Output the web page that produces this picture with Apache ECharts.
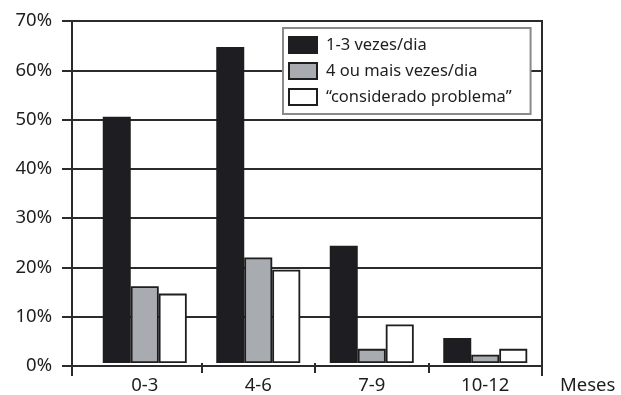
<!DOCTYPE html>
<html>
<head>
<meta charset="utf-8">
<script src="https://cdn.jsdelivr.net/npm/echarts@6/dist/echarts.min.js"></script>
<style>
    html, body { margin: 0; padding: 0; background: #fff; }
    #chart { width: 621px; height: 395px; }
</style>
</head>
<body>
<div id="chart"></div>
<script>
// faixas de idade (meses)
const categories = ['0-3', '4-6', '7-9', '10-12'];
const seriesNames = ['1-3 vezes/dia', '4 ou mais vezes/dia', '\u201cconsiderado problema\u201d'];
// valores em %
const vezes13 = [50.4, 64.7, 24.0, 5.1];
const vezes4mais = [15.7, 21.6, 2.9, 1.7];
const problema = [14.2, 19.1, 7.9, 2.9];
const yTicks = [0, 10, 20, 30, 40, 50, 60, 70];

const lineColor = '#2b2b2b';
const textColor = '#1e1e1e';
const font = 'Noto Sans';

function drawChart(chart_id) {
    const myChart = echarts.init(document.getElementById(chart_id));

    const barStyle = (color) => ({
        color: color,
        borderColor: '#1e1e1e',
        borderWidth: 1.8
    });

    const option = {
        animation: false,
        textStyle: { fontFamily: font },
        grid: [
            // grade com o eixo y e linhas de grade
            { left: 72, right: 79, top: 21, bottom: 29, show: true,
              borderColor: lineColor, borderWidth: 2, backgroundColor: 'transparent' },
            // grade das barras
            { left: 88, right: 79, top: 21, bottom: 29 }
        ],
        legend: {
            orient: 'vertical',
            left: 283,
            top: 28,
            icon: 'rect',
            itemWidth: 28,
            itemHeight: 16,
            itemGap: 8,
            backgroundColor: '#fff',
            borderColor: '#8a8a8a',
            borderWidth: 2,
            padding: [8, 19, 8, 5],
            textStyle: { fontFamily: font, fontSize: 16.5, color: textColor, padding: [0, 0, 0, 4] },
            data: seriesNames
        },
        xAxis: [
            {
                type: 'category',
                gridIndex: 0,
                data: [''],
                axisLine: { show: false },
                axisTick: { show: true, length: 10, lineStyle: { color: lineColor, width: 2 } },
                axisLabel: { show: false }
            },
            {
                type: 'category',
                gridIndex: 1,
                data: categories,
                axisLine: { show: false },
                axisTick: {
                    show: true, length: 10,
                    interval: (i) => i > 0,
                    lineStyle: { color: lineColor, width: 2 }
                },
                axisLabel: { fontFamily: font, fontSize: 18.5, color: textColor, margin: 13 },
                name: 'Meses',
                nameLocation: 'end',
                nameGap: 18,
                nameTextStyle: { fontFamily: font, fontSize: 18.5, color: textColor,
                                 verticalAlign: 'top', padding: [13, 0, 0, 0] }
            }
        ],
        yAxis: [
            {
                type: 'value',
                gridIndex: 0,
                min: yTicks[0],
                max: yTicks[yTicks.length - 1],
                interval: 10,
                axisLine: { show: true, lineStyle: { color: lineColor, width: 2 } },
                axisTick: { show: true, length: 10, lineStyle: { color: lineColor, width: 2 } },
                splitLine: { show: true, lineStyle: { color: lineColor, width: 2 } },
                axisLabel: { formatter: '{value}%', fontFamily: font, fontSize: 18.5,
                             color: textColor, margin: 20 }
            },
            {
                type: 'value',
                gridIndex: 1,
                min: yTicks[0],
                max: yTicks[yTicks.length - 1],
                interval: 10,
                show: false
            }
        ],
        series: [
            { name: seriesNames[0], type: 'bar', xAxisIndex: 1, yAxisIndex: 1,
              barWidth: 28, barGap: '0%', data: vezes13, itemStyle: barStyle('#1e1e22') },
            { name: seriesNames[1], type: 'bar', xAxisIndex: 1, yAxisIndex: 1,
              barWidth: 28, barGap: '0%', data: vezes4mais, itemStyle: barStyle('#a8abaf') },
            { name: seriesNames[2], type: 'bar', xAxisIndex: 1, yAxisIndex: 1,
              barWidth: 28, barGap: '0%', data: problema, itemStyle: barStyle('#ffffff') }
        ]
    };

    myChart.setOption(option);
}

drawChart('chart');
</script>
</body>
</html>
